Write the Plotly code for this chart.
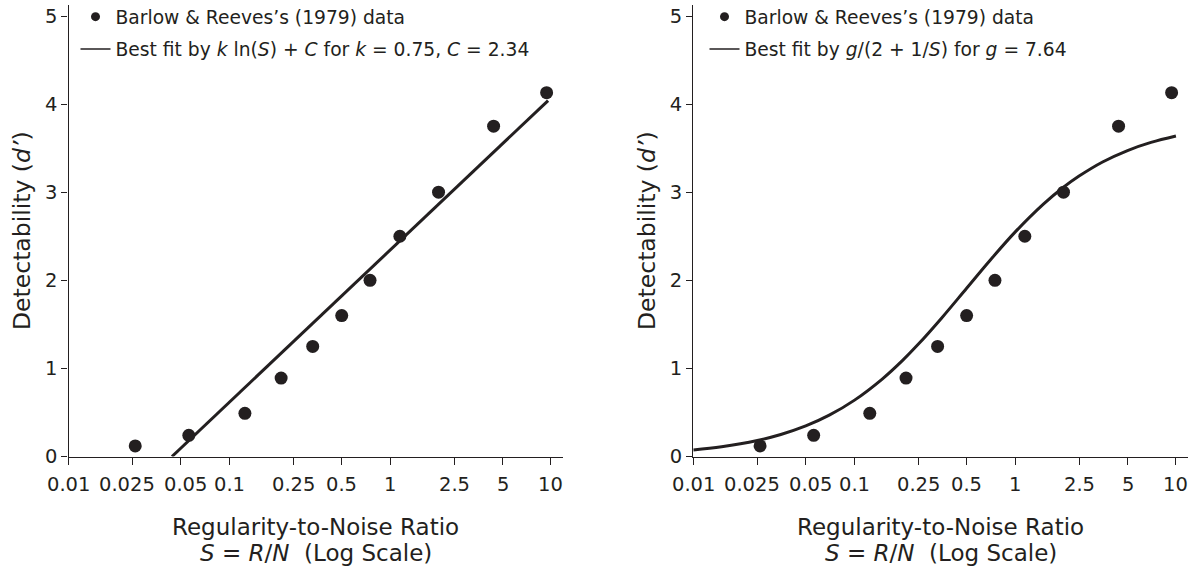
import math
import plotly.graph_objects as go

# ---- data ----
S_data = [0.026, 0.056, 0.125, 0.21, 0.33, 0.5, 0.75, 1.15, 2.0, 4.4, 9.4]
d_data = [0.12, 0.24, 0.49, 0.89, 1.25, 1.6, 2.0, 2.5, 3.0, 3.75, 4.13]

# left panel fit: k ln(S) + C (straight in log-x)
S_fit_log = [0.044, 9.6]
d_fit_log = [0.0, 4.04]

# right panel fit: g/(2 + 1/S)
S_fit_sat = [0.01, 0.015, 0.025, 0.035, 0.05, 0.07, 0.1, 0.15, 0.2, 0.25, 0.35,
             0.5, 0.7, 1, 1.5, 2, 2.5, 3.5, 5, 7, 10]
d_fit_sat = [0.075, 0.111, 0.182, 0.250, 0.347, 0.469, 0.637, 0.882, 1.091, 1.273,
             1.573, 1.910, 2.228, 2.547, 2.865, 3.056, 3.183, 3.343, 3.473, 3.565, 3.638]

x_tickvals = [0.01, 0.025, 0.05, 0.1, 0.25, 0.5, 1, 2.5, 5, 10]
x_ticktext = ["0.01", "0.025", "0.05", "0.1", "0.25", "0.5", "1", "2.5", "5", "10"]
x_label_nudge = [0, -5, 5, 0, 0, 0, 0, 0, 0, 0]   # the print nudges two crowded labels apart
y_tickvals = [0, 1, 2, 3, 4, 5]

legend_data = "Barlow & Reeves\u2019s (1979) data"
legend_fit_left = "Best fit by <i>k</i> ln(<i>S</i>) + <i>C</i> for <i>k</i> = 0.75, <i>C</i> = 2.34"
legend_fit_right = "Best fit by <i>g</i>/(2 + 1/<i>S</i>) for <i>g</i> = 7.64"

xtitle_1 = "Regularity-to-Noise Ratio"
xtitle_2 = "<i>S</i> = <i>R</i>/<i>N</i> \u00a0(Log Scale)"
ytitle = "Detectability (<i>d\u2019</i>)"

INK = "#231f20"
FONT = "DejaVu Sans"
W, H = 1197, 573

fig = go.Figure()

def add_panel(xa, ya, leg, S_fit, d_fit, fit_name, shape):
    # legend-only entries (small glyphs like the reference)
    fig.add_trace(go.Scatter(x=[None], y=[None], mode="markers", name=legend_data,
                             marker=dict(size=9, color=INK), xaxis=xa, yaxis=ya,
                             legend=leg, legendgroup=leg + "a", hoverinfo="skip"))
    fig.add_trace(go.Scatter(x=[None], y=[None], mode="lines", name=fit_name,
                             line=dict(width=1.5, color=INK), xaxis=xa, yaxis=ya,
                             legend=leg, legendgroup=leg + "b", hoverinfo="skip"))
    fig.add_trace(go.Scatter(x=S_fit, y=d_fit, mode="lines", showlegend=False,
                             line=dict(width=3, color=INK, shape=shape), xaxis=xa, yaxis=ya))
    fig.add_trace(go.Scatter(x=S_data, y=d_data, mode="markers", showlegend=False,
                             marker=dict(size=13, color=INK), xaxis=xa, yaxis=ya))

add_panel("x", "y", "legend", S_fit_log, d_fit_log, legend_fit_left, "linear")
add_panel("x2", "y2", "legend2", S_fit_sat, d_fit_sat, legend_fit_right, "spline")

def px_x(p):
    return p / W

def px_y(p):
    return (H - p) / H

xdom1 = [px_x(68.5), px_x(563)]
xdom2 = [px_x(693.3), px_x(1188)]
ydom = [px_y(456.5), px_y(5)]

xcommon = dict(type="log", range=[-2, 1.075], tickvals=x_tickvals, showticklabels=False,
               showline=True, linecolor=INK, linewidth=1.3, ticks="outside",
               ticklen=7, tickwidth=1.3, tickcolor=INK, showgrid=False, zeroline=False,
               automargin=False)
ycommon = dict(range=[0, 5.125], tickvals=y_tickvals, showline=True, linecolor=INK,
               linewidth=1.3, ticks="outside", ticklen=6, tickwidth=1.3, tickcolor=INK,
               showgrid=False, zeroline=False, automargin=False,
               tickfont=dict(family=FONT, size=19.5, color=INK))

leg_common = dict(font=dict(family=FONT, size=18.7, color=INK), bgcolor="rgba(0,0,0,0)",
                  xanchor="left", yanchor="top", traceorder="grouped", tracegroupgap=5,
                  itemwidth=30)

fig.update_layout(
    width=W, height=H,
    margin=dict(l=0, r=0, t=0, b=0, autoexpand=False),
    paper_bgcolor="white", plot_bgcolor="white",
    font=dict(family=FONT, color=INK),
    xaxis=dict(domain=xdom1, anchor="y", **xcommon),
    yaxis=dict(domain=ydom, anchor="x", **ycommon),
    xaxis2=dict(domain=xdom2, anchor="y2", **xcommon),
    yaxis2=dict(domain=ydom, anchor="x2", **ycommon),
    legend=dict(x=px_x(75.5), y=px_y(-2), **leg_common),
    legend2=dict(x=px_x(704.5), y=px_y(-2), **leg_common),
)

# x tick labels, placed on the log axes at their tick values
for xr, yr in [("x", "y"), ("x2", "y2")]:
    for v, t, dx in zip(x_tickvals, x_ticktext, x_label_nudge):
        fig.add_annotation(text=t, xref=xr, yref=yr, x=math.log10(v), y=0, xshift=dx,
                           yshift=-27.5, xanchor="center", yanchor="middle", showarrow=False,
                           font=dict(family=FONT, size=19.5, color=INK))

for cx in [(68.5 + 563) / 2, (693.3 + 1188) / 2]:
    for txt, cy in [(xtitle_1, 527), (xtitle_2, 553)]:
        fig.add_annotation(text=txt, xref="paper", yref="paper", x=px_x(cx), y=px_y(cy),
                           xanchor="center", yanchor="middle", showarrow=False,
                           font=dict(family=FONT, size=23, color=INK))
for cx in [22, 647]:
    fig.add_annotation(text=ytitle, xref="paper", yref="paper", x=px_x(cx), y=px_y(231),
                       xanchor="center", yanchor="middle", showarrow=False, textangle=-90,
                       font=dict(family=FONT, size=23.5, color=INK))

fig.write_html("out.html", config={"displayModeBar": False},
               post_script="document.body.style.margin='0';")
